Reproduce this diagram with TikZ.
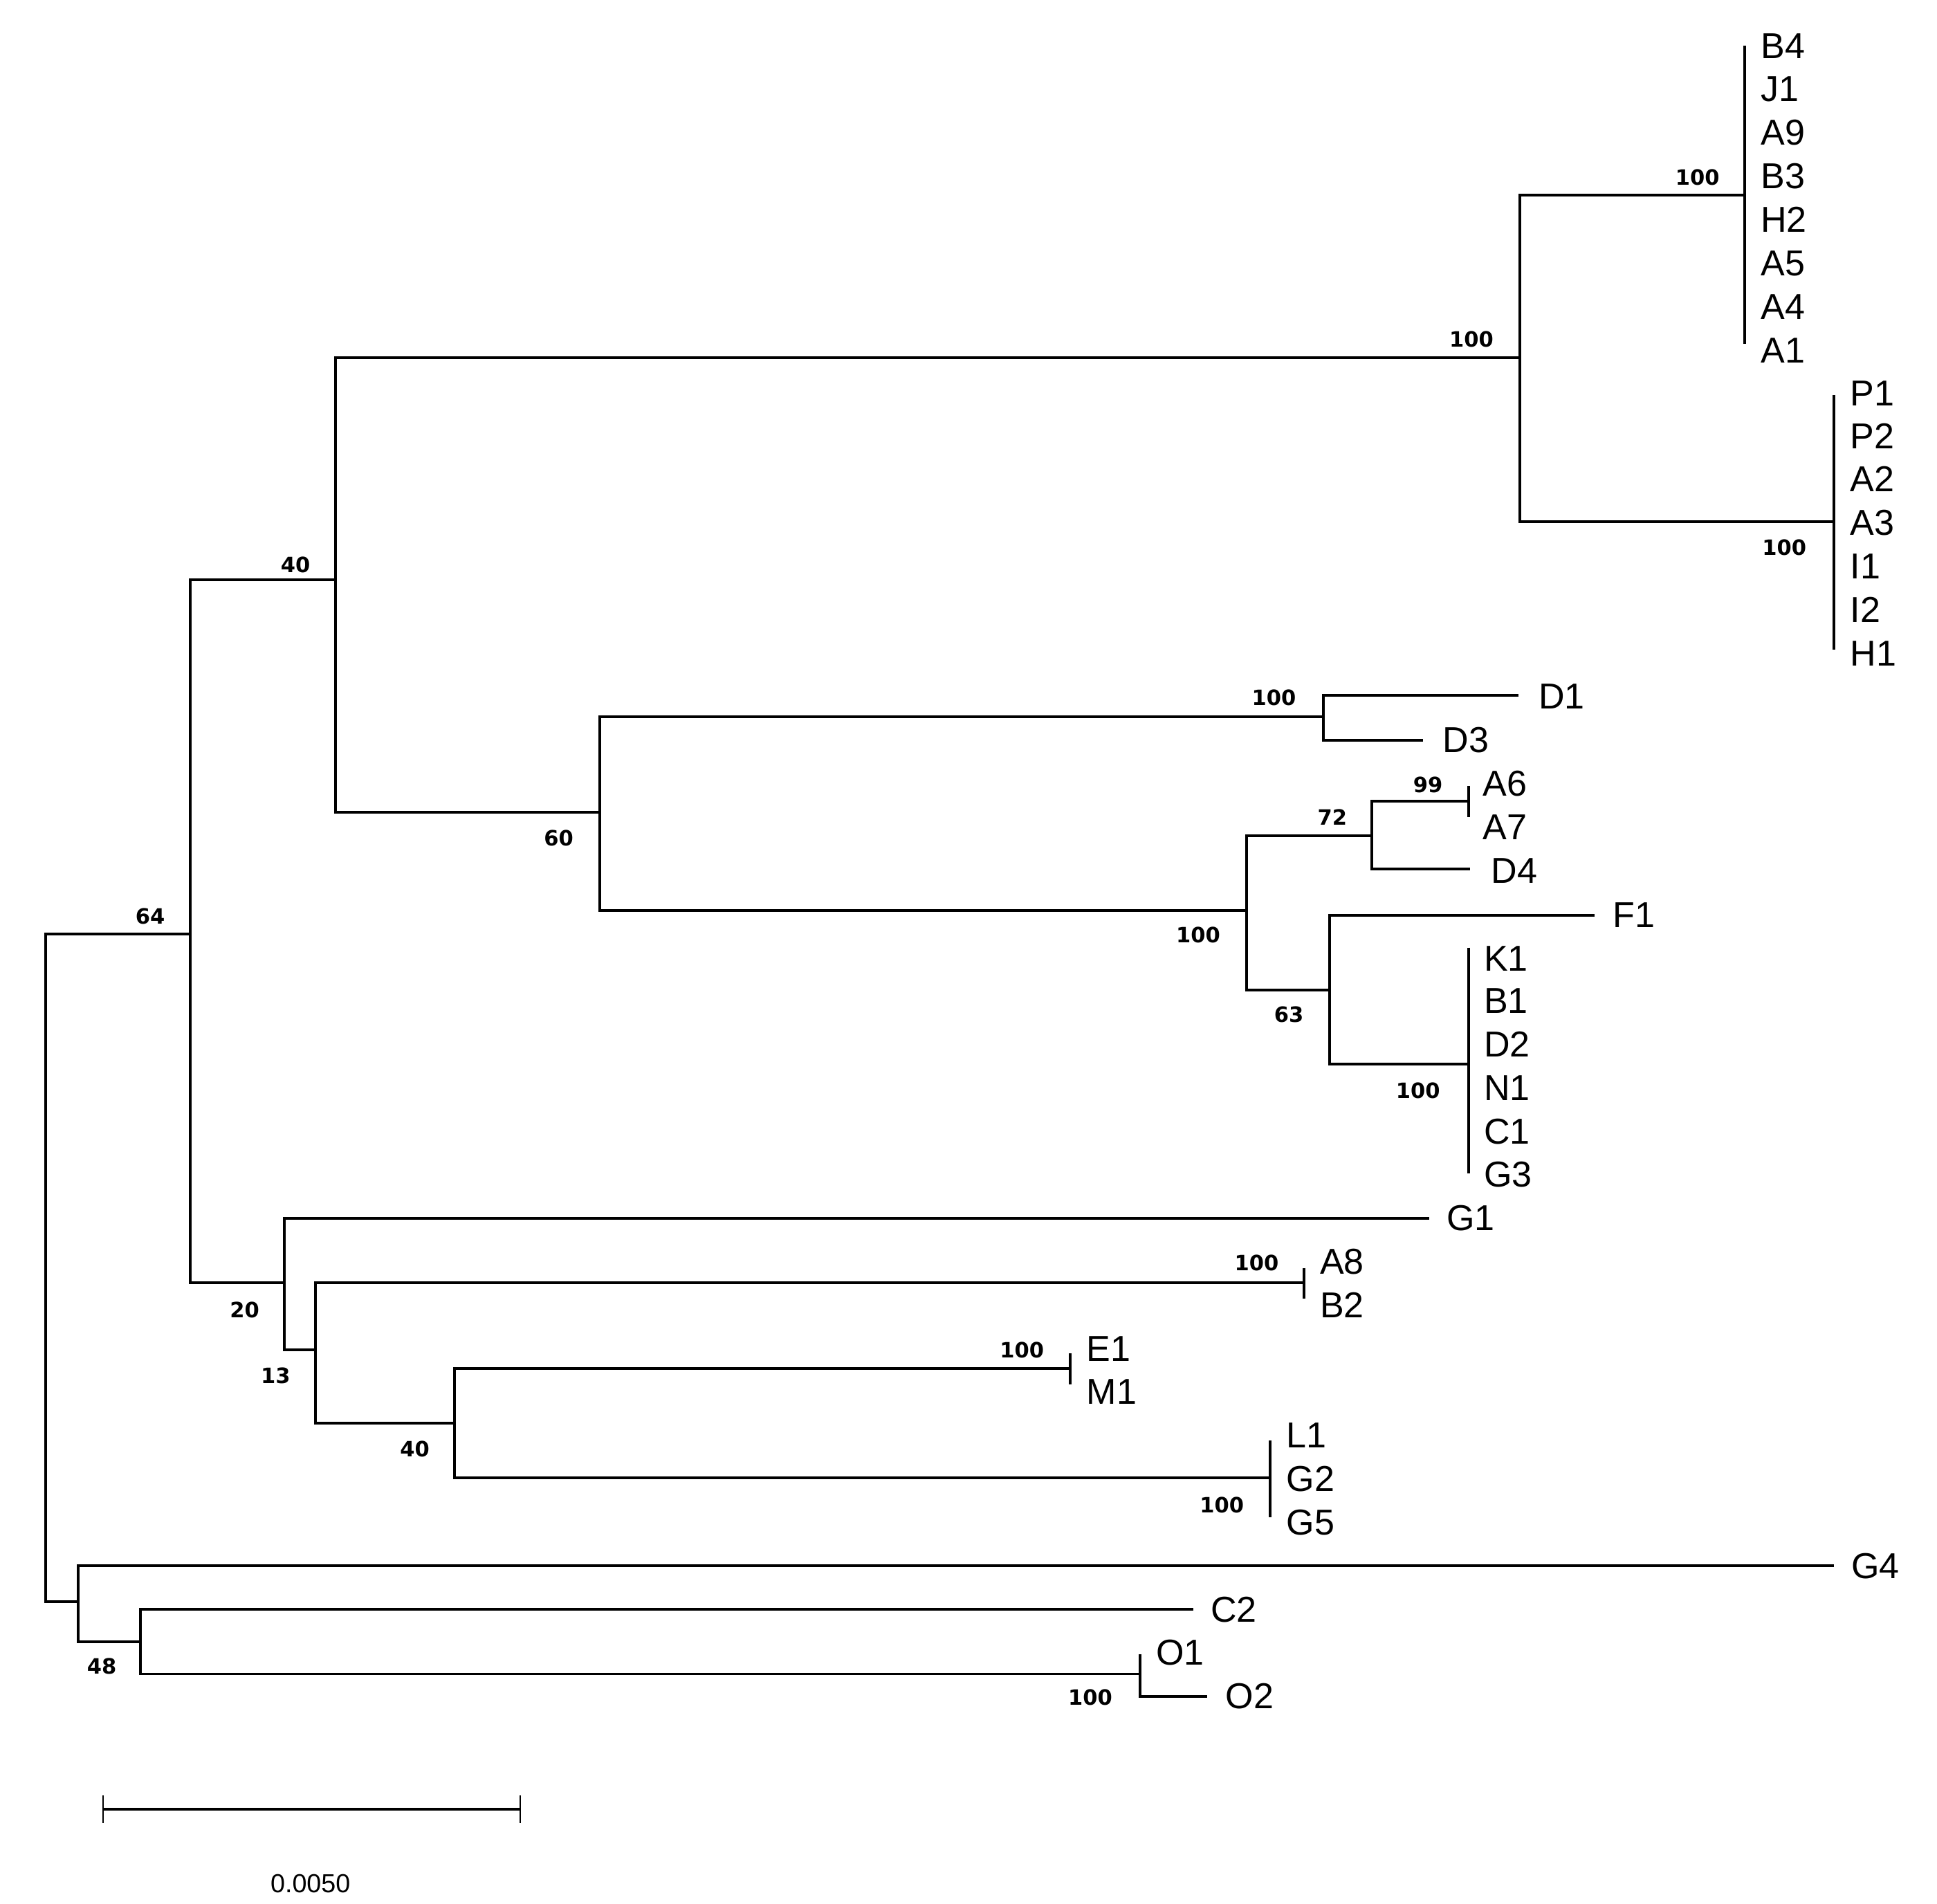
\documentclass[tikz,border=0pt]{standalone}
\usepackage{fontspec}
\setmainfont{Liberation Sans}
\newfontfamily\bsfont{DejaVu Sans}
\begin{document}
\begin{tikzpicture}[x=1pt,y=-1pt,line width=2.2pt,
 leaf/.style={anchor=west,font=\fontsize{29}{29}\selectfont,inner sep=0pt},
 bs/.style={font=\bsfont\bfseries\fontsize{17}{17}\selectfont,inner sep=0pt},
 br/.style={line cap=rect}]
\useasboundingbox (0,0) rectangle (1560,1533);
% internal nodes
\coordinate (r) at (37,1290);
\coordinate (n64) at (153,752);
\coordinate (n40) at (270,467);
\coordinate (nA) at (1224,288);
\coordinate (nB) at (1405,157);
\coordinate (nP) at (1477,420);
\coordinate (n60) at (483,654);
\coordinate (nD) at (1066,577);
\coordinate (nX) at (1004,733);
\coordinate (n72) at (1105,673);
\coordinate (n99) at (1183,645);
\coordinate (n63) at (1071,797);
\coordinate (nK) at (1183,857);
\coordinate (n20) at (229,1033);
\coordinate (n13) at (254,1087);
\coordinate (nAB) at (1050,1033);
\coordinate (n40b) at (366,1146);
\coordinate (nEM) at (862,1102);
\coordinate (nL) at (1023,1190);
\coordinate (nG) at (63,1290);
\coordinate (n48) at (113,1322);
\coordinate (nO) at (918,1348);
% tips
\coordinate (tD1) at (1222,560);
\coordinate (tD3) at (1145,596);
\coordinate (tD4) at (1183,700);
\coordinate (tF1) at (1283,737);
\coordinate (tG1) at (1150,981);
\coordinate (tG4) at (1476,1261);
\coordinate (tC2) at (960,1296);
\coordinate (tO2) at (972,1366);
% branches
\draw[br] (r) |- (n64); \draw[br] (r) |- (nG);
\draw[br] (n64) |- (n40); \draw[br] (n64) |- (n20);
\draw[br] (n40) |- (nA); \draw[br] (n40) |- (n60);
\draw[br] (nA) |- (nB); \draw[br] (nA) |- (nP);
\draw[br] (n60) |- (nD); \draw[br] (n60) |- (nX);
\draw[br] (nD) |- (tD1); \draw[br] (nD) |- (tD3);
\draw[br] (nX) |- (n72); \draw[br] (nX) |- (n63);
\draw[br] (n72) |- (n99); \draw[br] (n72) |- (tD4);
\draw[br] (n63) |- (tF1); \draw[br] (n63) |- (nK);
\draw[br] (n20) |- (tG1); \draw[br] (n20) |- (n13);
\draw[br] (n13) |- (nAB); \draw[br] (n13) |- (n40b);
\draw[br] (n40b) |- (nEM); \draw[br] (n40b) |- (nL);
\draw[br] (nG) |- (tG4); \draw[br] (nG) |- (n48);
\draw[br] (n48) |- (tC2); \draw[br] (n48) |- (nO);
\draw (nO) ++(0,-16) coordinate (tO1) -- (nO |- tO2) -- (tO2);
% collapsed clade bars
\draw (1405,37) -- (1405,277);
\draw (1477,318) -- (1477,523);
\draw (1183,633) -- (1183,658);
\draw (1183,763) -- (1183,945);
\draw (1050,1021) -- (1050,1046);
\draw (862,1090) -- (862,1115);
\draw (1023,1160) -- (1023,1222);
% leaf labels
\foreach \n/\y in {B4/37,J1/72,A9/107,B3/142,H2/177,A5/212,A4/247,A1/282}
  \node[leaf] (l\n) at (1417,\y) {\n};
\foreach \n/\y in {P1/317,P2/351,A2/386,A3/421,I1/456,I2/491,H1/526}
  \node[leaf] (l\n) at (1489,\y) {\n};
\node[leaf] (lD1) at (1238,561) {D1};
\node[leaf] (lD3) at (1161,596) {D3};
\node[leaf] (lA6) at (1193,631) {A6};
\node[leaf] (lA7) at (1193,666) {A7};
\node[leaf] (lD4) at (1200,701) {D4};
\node[leaf] (lF1) at (1298,737) {F1};
\foreach \n/\y in {K1/772,B1/806,D2/841,N1/876,C1/911,G3/946}
  \node[leaf] (l\n) at (1194,\y) {\n};
\node[leaf] (lG1) at (1164,981) {G1};
\node[leaf] (lA8) at (1062,1016) {A8};
\node[leaf] (lB2) at (1062,1051) {B2};
\node[leaf] (lE1) at (874,1086) {E1};
\node[leaf] (lM1) at (874,1121) {M1};
\node[leaf] (lL1) at (1035,1156) {L1};
\node[leaf] (lG2) at (1035,1191) {G2};
\node[leaf] (lG5) at (1035,1226) {G5};
\node[leaf] (lG4) at (1490,1261) {G4};
\node[leaf] (lC2) at (974,1296) {C2};
\node[leaf] (lO1) at (930,1331) {O1};
\node[leaf] (lO2) at (986,1366) {O2};
% bootstrap labels
\node[bs] (b1) at (1367,143) {100};
\node[bs] (b2) at (1185,273) {100};
\node[bs] (b3) at (1437,441) {100};
\node[bs] (b4) at (238,455) {40};
\node[bs] (b5) at (1026,562) {100};
\node[bs] (b6) at (1150,632) {99};
\node[bs] (b7) at (1073,658) {72};
\node[bs] (b8) at (450,675) {60};
\node[bs] (b9) at (121,738) {64};
\node[bs] (b10) at (965,753) {100};
\node[bs] (b11) at (1038,817) {63};
\node[bs] (b12) at (1142,878) {100};
\node[bs] (b13) at (1012,1017) {100};
\node[bs] (b14) at (197,1055) {20};
\node[bs] (b15) at (823,1087) {100};
\node[bs] (b16) at (222,1108) {13};
\node[bs] (b17) at (334,1167) {40};
\node[bs] (b18) at (984,1212) {100};
\node[bs] (b19) at (82,1342) {48};
\node[bs] (b20) at (878,1367) {100};
% scale bar
\coordinate (s1) at (83,1457); \coordinate (s2) at (419,1457);
\draw (s1) -- (s2);
\draw[line width=1.5pt] (83,1446) -- (83,1468);
\draw[line width=1.5pt] (419,1446) -- (419,1468);
\node[font=\fontsize{21}{21}\selectfont] (sl) at (250,1517) {0.0050};
\end{tikzpicture}
\end{document}
